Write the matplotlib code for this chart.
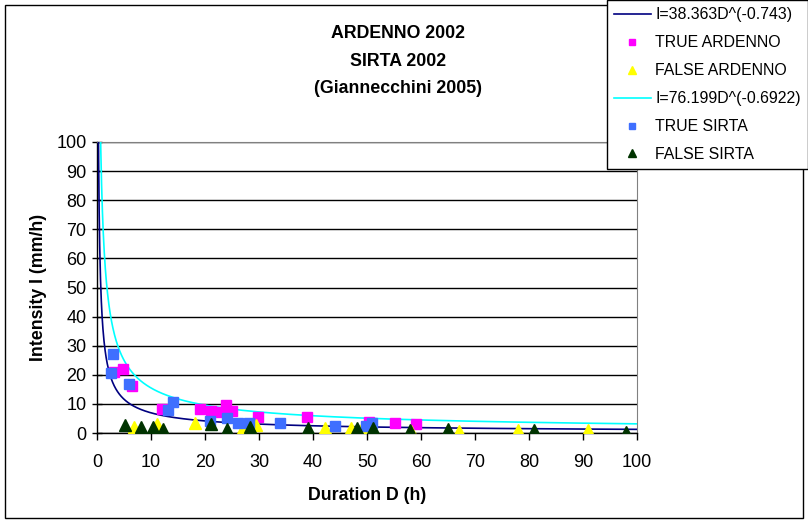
import numpy as np
import matplotlib
matplotlib.use("Agg")
import matplotlib.pyplot as plt
from matplotlib.patches import Rectangle

plt.rcParams['font.family'] = ['Liberation Sans', 'DejaVu Sans']

# rainfall events: duration D (h), intensity I (mm/h)
true_ardenno_d = [3.1, 4.8, 6.5, 12.0, 19.1, 21.1, 23.0, 23.9, 25.0, 29.8, 38.9, 50.4, 55.2, 59.1]
true_ardenno_i = [21.0, 22.0, 16.2, 8.2, 8.2, 7.6, 7.2, 9.6, 7.6, 5.5, 5.5, 3.8, 3.4, 3.1]

false_ardenno_d = [6.9, 11.1, 18.1, 27.0, 29.4, 42.2, 47.0, 49.0, 58.1, 67.0, 78.0, 91.0]
false_ardenno_i = [2.1, 3.1, 3.4, 1.7, 2.7, 1.7, 1.7, 1.7, 0.6, 0.7, 1.0, 1.0]

true_sirta_d = [3.0, 2.6, 5.9, 13.1, 14.1, 20.9, 24.0, 26.1, 28.1, 33.9, 44.1, 49.8, 50.9]
true_sirta_i = [27.1, 20.6, 16.8, 7.9, 10.6, 4.1, 5.2, 3.4, 3.4, 3.4, 2.4, 2.4, 3.4]

false_sirta_d = [5.2, 8.1, 10.4, 12.2, 21.1, 24.0, 28.3, 39.1, 48.1, 51.1, 58.0, 65.0, 81.0, 98.0]
false_sirta_i = [2.7, 2.1, 2.1, 1.4, 3.1, 1.4, 2.1, 1.7, 1.7, 1.7, 1.0, 1.4, 1.0, 0.4]

# power-law thresholds I = a * D^b
ardenno_a, ardenno_b = 38.363, -0.743
sirta_a, sirta_b = 76.199, -0.6922

fig = plt.figure(figsize=(8.08, 5.23), dpi=100)
ax = fig.add_axes([97 / 808, 1 - 433 / 523, 540 / 808, 291 / 523])

d = np.linspace(0.2, 100, 2000)
l1, = ax.plot(d, ardenno_a * d ** ardenno_b, color='#000080', lw=1.2,
              label='I=38.363D^(-0.743)', zorder=3)
p1, = ax.plot(true_ardenno_d, true_ardenno_i, 's', color='#FF00FF', ms=6.5,
              mec='#FF00FF', label='TRUE ARDENNO', zorder=4)
p2, = ax.plot(false_ardenno_d, false_ardenno_i, '^', color='#FFFF00', ms=8.5,
              mec='#FFFF00', label='FALSE ARDENNO', zorder=4)
l2, = ax.plot(d, sirta_a * d ** sirta_b, color='#00FFFF', lw=1.2,
              label='I=76.199D^(-0.6922)', zorder=3)
p3, = ax.plot(true_sirta_d, true_sirta_i, 's', color='#3F6FFF', ms=6.5,
              mec='#3F6FFF', label='TRUE SIRTA', zorder=5)
p4, = ax.plot(false_sirta_d, false_sirta_i, '^', color='#003300', ms=8.5,
              mec='#003300', label='FALSE SIRTA', zorder=5)

ax.set_xlim(0, 100)
ax.set_ylim(0, 100)
ax.set_xticks(range(0, 101, 10))
ax.set_yticks(range(0, 101, 10))
ax.yaxis.grid(True, color='black', lw=1)
ax.set_axisbelow(True)
ax.tick_params(axis='x', direction='out', length=5, width=1, labelsize=13, pad=10)
ax.tick_params(axis='y', direction='inout', length=7, width=1, labelsize=13, pad=4)
for s in ['top', 'right']:
    ax.spines[s].set_color('#808080')
    ax.spines[s].set_linewidth(0.8)
ax.spines['left'].set_linewidth(1)
ax.spines['bottom'].set_linewidth(1)

ax.set_xlabel('Duration D (h)', fontsize=12.8, fontweight='bold', labelpad=12)
ax.set_ylabel('Intensity I (mm/h)', fontsize=12.8, fontweight='bold', labelpad=7)

fig.text(398 / 808, 1 - 34 / 523, 'ARDENNO 2002', ha='center', va='center',
         fontsize=12.8, fontweight='bold')
fig.text(398 / 808, 1 - 61 / 523, 'SIRTA 2002', ha='center', va='center',
         fontsize=12.8, fontweight='bold')
fig.text(398 / 808, 1 - 88 / 523, '(Giannecchini 2005)', ha='center', va='center',
         fontsize=12.8, fontweight='bold')

# outer chart frame
fig.patches.append(Rectangle((5 / 808, 5 / 523), 798 / 808, 513 / 523,
                             transform=fig.transFigure, fill=False,
                             edgecolor='black', lw=1))

leg = fig.legend(handles=[l1, p1, p2, l2, p3, p4], loc='upper left',
                 bbox_to_anchor=(607 / 808, 1.0), fontsize=11.4,
                 frameon=True, fancybox=False, edgecolor='black',
                 framealpha=1, borderpad=0.45, labelspacing=0.82,
                 handlelength=2.3, handletextpad=0.3, markerscale=0.6,
                 borderaxespad=0)
leg.get_frame().set_linewidth(1)

fig.savefig('out.png', dpi=100)
